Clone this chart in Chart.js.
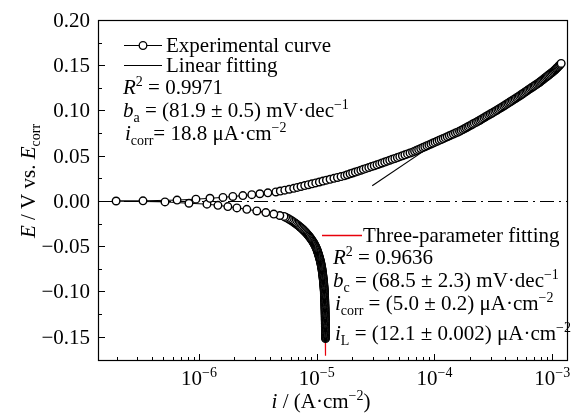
<!DOCTYPE html>
<html><head><meta charset="utf-8">
<script src="https://cdn.jsdelivr.net/npm/chart.js@4.4.1/dist/chart.umd.min.js"></script>
<style>html,body{margin:0;padding:0;background:#fff;}canvas{display:block;}</style>
</head><body>
<canvas id="c" width="576" height="416"></canvas>
<script>
// ---------------- data ----------------
// anodic branch: potential E (V vs. Ecorr) and current density |i| (A cm^-2)
const anodicE = [0,0.0002,0.001,0.002,0.003,0.004,0.005,0.006,0.007,0.008,0.009,
0.010,0.011,0.012,0.013,0.014,0.015,0.016,0.017,0.018,0.019,
0.020,0.021,0.022,0.023,0.024,0.025,0.026,0.027,0.028,0.029,
0.030,0.031,0.032,0.033,0.034,0.035,0.036,0.037,0.038,0.039,
0.040,0.041,0.042,0.043,0.044,0.045,0.046,0.047,0.048,0.049,
0.050,0.051,0.052,0.053,0.054,0.055,0.056,0.057,0.058,0.059,
0.060,0.061,0.062,0.063,0.064,0.065,0.066,0.067,0.068,0.069,
0.070,0.071,0.072,0.073,0.074,0.075,0.076,0.077,0.078,0.079,
0.080,0.081,0.082,0.083,0.084,0.085,0.086,0.087,0.088,0.089,
0.090,0.091,0.092,0.093,0.094,0.095,0.096,0.097,0.098,0.099,
0.100,0.101,0.102,0.103,0.104,0.105,0.106,0.107,0.108,0.109,
0.110,0.111,0.112,0.113,0.114,0.115,0.116,0.117,0.118,0.119,
0.120,0.121,0.122,0.123,0.124,0.125,0.126,0.127,0.128,0.129,
0.130,0.131,0.132,0.133,0.134,0.135,0.136,0.137,0.138,0.139,
0.140,0.141,0.142,0.143,0.144,0.145,0.146,0.147,0.148,0.149,
0.150,0.151,0.152];
const anodicI = [1.98e-7,3.35e-7,6.52e-7,9.43e-7,1.24e-6,1.60e-6,1.94e-6,2.36e-6,2.81e-6,3.29e-6,3.85e-6,
4.50e-6,4.91e-6,5.36e-6,5.85e-6,6.38e-6,6.85e-6,7.36e-6,7.91e-6,8.50e-6,9.13e-6,
9.82e-6,1.054e-5,1.13e-5,1.21e-5,1.30e-5,1.40e-5,1.50e-5,1.61e-5,1.73e-5,1.82e-5,
1.92e-5,2.02e-5,2.13e-5,2.25e-5,2.37e-5,2.49e-5,2.63e-5,2.77e-5,2.92e-5,3.08e-5,
3.25e-5,3.42e-5,3.59e-5,3.78e-5,3.97e-5,4.17e-5,4.38e-5,4.61e-5,4.84e-5,5.08e-5,
5.34e-5,5.61e-5,5.90e-5,6.20e-5,6.51e-5,6.78e-5,7.05e-5,7.34e-5,7.64e-5,7.96e-5,
8.28e-5,8.62e-5,8.97e-5,9.33e-5,9.71e-5,1.011e-4,1.052e-4,1.095e-4,1.14e-4,1.186e-4,
1.234e-4,1.284e-4,1.336e-4,1.39e-4,1.447e-4,1.506e-4,1.567e-4,1.63e-4,1.683e-4,1.74e-4,
1.80e-4,1.86e-4,1.92e-4,1.98e-4,2.05e-4,2.11e-4,2.18e-4,2.26e-4,2.33e-4,2.41e-4,
2.48e-4,2.55e-4,2.63e-4,2.71e-4,2.79e-4,2.88e-4,2.97e-4,3.06e-4,3.15e-4,3.25e-4,
3.35e-4,3.45e-4,3.55e-4,3.66e-4,3.76e-4,3.87e-4,3.98e-4,4.09e-4,4.20e-4,4.32e-4,
4.44e-4,4.57e-4,4.70e-4,4.83e-4,4.97e-4,5.11e-4,5.25e-4,5.39e-4,5.53e-4,5.67e-4,
5.82e-4,5.97e-4,6.13e-4,6.29e-4,6.46e-4,6.63e-4,6.81e-4,6.99e-4,7.17e-4,7.36e-4,
7.56e-4,7.76e-4,7.94e-4,8.12e-4,8.30e-4,8.49e-4,8.68e-4,8.88e-4,9.08e-4,9.29e-4,
9.50e-4,9.71e-4,9.93e-4,1.016e-3,1.039e-3,1.057e-3,1.076e-3,1.094e-3,1.114e-3,1.133e-3,
1.152e-3,1.172e-3,1.19e-3];

// cathodic branch, listed from Ecorr downward
const cathodicE = [-0.001,-0.0025,-0.0035,-0.0048,-0.0062,-0.0076,-0.0092,-0.011,-0.0128,-0.0145,-0.016,
-0.017,-0.018,-0.019,-0.020,
-0.021,-0.022,-0.023,-0.024,-0.025,-0.026,-0.027,-0.028,-0.029,-0.030,
-0.031,-0.032,-0.033,-0.034,-0.035,-0.036,-0.037,-0.038,-0.039,-0.040,
-0.041,-0.042,-0.043,-0.044,-0.045,-0.046,-0.047,-0.048,-0.049,-0.050,
-0.051,-0.052,-0.053,-0.054,-0.055,-0.056,-0.057,-0.058,-0.059,-0.060,
-0.061,-0.062,-0.063,-0.064,-0.065,-0.066,-0.067,-0.068,-0.069,-0.070,
-0.071,-0.072,-0.073,-0.074,-0.075,-0.076,-0.077,-0.078,-0.079,-0.080,
-0.081,-0.082,-0.083,-0.084,-0.085,-0.086,-0.087,-0.088,-0.089,-0.090,
-0.091,-0.092,-0.093,-0.094,-0.095,-0.096,-0.097,-0.098,-0.099,-0.100,
-0.101,-0.102,-0.103,-0.104,-0.105,-0.106,-0.107,-0.108,-0.109,-0.110,
-0.111,-0.112,-0.113,-0.114,-0.115,-0.116,-0.117,-0.118,-0.119,-0.120,
-0.121,-0.122,-0.123,-0.124,-0.125,-0.126,-0.127,-0.128,-0.129,-0.130,
-0.131,-0.132,-0.133,-0.134,-0.135,-0.136,-0.137,-0.138,-0.139,-0.140,
-0.141,-0.142,-0.143,-0.144,-0.145,-0.146,-0.147,-0.148,-0.149,-0.150,
-0.151,-0.152];
const cathodicI = [5.15e-7,8.23e-7,1.17e-6,1.45e-6,1.76e-6,2.10e-6,2.55e-6,3.10e-6,3.70e-6,4.32e-6,4.86e-6,
5.27e-6,5.44e-6,5.63e-6,5.81e-6,
5.99e-6,6.16e-6,6.32e-6,6.48e-6,6.64e-6,6.80e-6,6.96e-6,7.11e-6,7.26e-6,7.41e-6,
7.56e-6,7.70e-6,7.84e-6,7.98e-6,8.11e-6,8.24e-6,8.37e-6,8.50e-6,8.62e-6,8.74e-6,
8.86e-6,8.97e-6,9.08e-6,9.19e-6,9.30e-6,9.40e-6,9.49e-6,9.58e-6,9.67e-6,9.76e-6,
9.84e-6,9.92e-6,9.99e-6,1.006e-5,1.012e-5,1.018e-5,1.024e-5,1.030e-5,1.036e-5,1.041e-5,
1.047e-5,1.052e-5,1.058e-5,1.063e-5,1.068e-5,1.072e-5,1.077e-5,1.081e-5,1.086e-5,1.089e-5,
1.093e-5,1.097e-5,1.101e-5,1.104e-5,1.107e-5,1.110e-5,1.113e-5,1.116e-5,1.118e-5,1.121e-5,
1.124e-5,1.126e-5,1.128e-5,1.131e-5,1.133e-5,1.136e-5,1.138e-5,1.140e-5,1.142e-5,1.144e-5,
1.146e-5,1.148e-5,1.149e-5,1.151e-5,1.153e-5,1.155e-5,1.156e-5,1.158e-5,1.159e-5,1.161e-5,
1.162e-5,1.162e-5,1.163e-5,1.164e-5,1.165e-5,1.166e-5,1.167e-5,1.168e-5,1.169e-5,1.170e-5,
1.171e-5,1.171e-5,1.172e-5,1.173e-5,1.173e-5,1.174e-5,1.175e-5,1.176e-5,1.176e-5,1.177e-5,
1.178e-5,1.178e-5,1.179e-5,1.179e-5,1.180e-5,1.180e-5,1.181e-5,1.181e-5,1.182e-5,1.182e-5,
1.182e-5,1.183e-5,1.183e-5,1.184e-5,1.184e-5,1.184e-5,1.185e-5,1.185e-5,1.185e-5,1.186e-5,
1.186e-5,1.186e-5,1.186e-5,1.187e-5,1.187e-5,1.187e-5,1.187e-5,1.187e-5,1.188e-5,1.188e-5,
1.188e-5,1.188e-5];

// linear (Tafel) fit segment
const linearE = [0.0168, 0.0675];
const linearI = [2.96e-5, 1.12e-4];

// three-parameter fit curve
const threeParE = [-0.010,-0.020,-0.030,-0.040,-0.050,-0.060,-0.070,-0.080,-0.090,-0.100,-0.110,-0.120,-0.130,-0.140,-0.150,-0.160,-0.171];
const threeParI = [3.0e-6,5.8e-6,7.4e-6,8.7e-6,9.7e-6,1.04e-5,1.09e-5,1.12e-5,1.145e-5,1.16e-5,1.17e-5,1.177e-5,1.182e-5,1.186e-5,1.188e-5,1.19e-5,1.192e-5];

// reference line at Ecorr
const E_REF = 0;

// axes
const xMin = 1.39e-7, xMax = 1.36e-3;
const yMin = -0.1768, yMax = 0.20;
const yTicks = [-0.15,-0.10,-0.05,0,0.05,0.10,0.15,0.20];
const yTickLabels = ['\u22120.15','\u22120.10','\u22120.05','0.00','0.05','0.10','0.15','0.20'];
const yMinorTicks = [-0.125,-0.075,-0.025,0.025,0.075,0.125,0.175];
const xTicks = [1e-6,1e-5,1e-4,1e-3];
const xTickExponents = ['\u22126','\u22125','\u22124','\u22123'];

// ---------------- build ----------------
function pairs(xs, ys){ const n=Math.min(xs.length, ys.length); const out=[]; for(let k=0;k<n;k++) out.push({x:xs[k], y:ys[k]}); return out; }
const expData = pairs(cathodicI, cathodicE).reverse().concat(pairs(anodicI, anodicE));
const linData = pairs(linearI, linearE);
const tpData = pairs(threeParI, threeParE);

const xMinor = [];
for (let d = -7; d <= -4; d++) for (let m = 2; m <= 9; m++) { const v = m * Math.pow(10, d); if (v > xMin && v < xMax) xMinor.push(v); }

const FONT = '"Liberation Serif", "Times New Roman", serif';
const FS = 21, FS_SMALL = 14;

function setFont(ctx, style, size){ ctx.font = (style==='i' ? 'italic ' : '') + size + 'px ' + FONT; }
function partSize(p){ return (p[1]==='sub'||p[1]==='sup') ? FS_SMALL : FS; }
function richWidth(ctx, parts){ let w=0; for(const p of parts){ setFont(ctx, p[1], partSize(p)); w += ctx.measureText(p[0]).width; } return w; }
function drawRich(ctx, x, y, parts, align){
  let cx = x; const w = richWidth(ctx, parts);
  if (align==='center') cx -= w/2; else if (align==='right') cx -= w;
  ctx.textAlign='left'; ctx.textBaseline='alphabetic';
  for (const p of parts){
    const sz = partSize(p); setFont(ctx, p[1], sz);
    const dy = p[1]==='sub' ? 5 : (p[1]==='sup' ? -8 : 0);
    ctx.fillText(p[0], cx, y+dy);
    cx += ctx.measureText(p[0]).width;
  }
}

const decor = {
  id:'decor',
  beforeDatasetsDraw(chart){
    const {ctx, chartArea:a, scales:{y}} = chart;
    const y0 = Math.round(y.getPixelForValue(E_REF)) + 0.5;
    ctx.save(); ctx.strokeStyle='#000'; ctx.lineWidth=1; ctx.setLineDash([14,5,2,5]);
    ctx.beginPath(); ctx.moveTo(a.left, y0); ctx.lineTo(a.right, y0); ctx.stroke(); ctx.restore();
  },
  afterDraw(chart){
    const {ctx, chartArea:a, scales:{x, y}} = chart;
    ctx.save();
    ctx.fillStyle='#000'; ctx.strokeStyle='#000'; ctx.lineWidth=1.2;
    // frame
    ctx.strokeRect(a.left+0.5, a.top+0.5, a.right-a.left-1, a.bottom-a.top-1);
    // ticks (inward)
    ctx.lineWidth=1;
    ctx.beginPath();
    yTicks.forEach(v=>{ const py=Math.round(y.getPixelForValue(v))+0.5; ctx.moveTo(a.left, py); ctx.lineTo(a.left+7, py); });
    yMinorTicks.forEach(v=>{ const py=Math.round(y.getPixelForValue(v))+0.5; ctx.moveTo(a.left, py); ctx.lineTo(a.left+4, py); });
    xTicks.forEach(v=>{ const px=Math.round(x.getPixelForValue(v))+0.5; ctx.moveTo(px, a.bottom); ctx.lineTo(px, a.bottom-7); });
    xMinor.forEach(v=>{ const px=Math.round(x.getPixelForValue(v))+0.5; ctx.moveTo(px, a.bottom); ctx.lineTo(px, a.bottom-4); });
    ctx.stroke();
    // y tick labels
    yTicks.forEach((v,k)=>{ const py=y.getPixelForValue(v); drawRich(ctx, a.left-8, py+7, [[yTickLabels[k]]], 'right'); });
    // x tick labels
    xTicks.forEach((v,k)=>{ const px=x.getPixelForValue(v); drawRich(ctx, px, a.bottom+24, [['10'],[xTickExponents[k],'sup']], 'center'); });
    // axis titles
    drawRich(ctx, (a.left+a.right)/2 - 12, 408, [['i','i'],[' / (A\u00B7cm'],['\u22122','sup'],[')']], 'center');
    ctx.save(); ctx.translate(35, 181); ctx.rotate(-Math.PI/2);
    drawRich(ctx, 0, 0, [['E','i'],[' / V vs. '],['E','i'],['corr','sub']], 'center');
    ctx.restore();
    // legend block 1
    ctx.lineWidth=1.1;
    ctx.beginPath(); ctx.moveTo(124, 45.5); ctx.lineTo(162, 45.5); ctx.stroke();
    ctx.lineWidth=1.3;
    ctx.beginPath(); ctx.arc(143, 45.5, 3.8, 0, Math.PI*2); ctx.fillStyle='#fff'; ctx.fill(); ctx.stroke();
    ctx.lineWidth=1.1;
    ctx.fillStyle='#000';
    ctx.beginPath(); ctx.moveTo(124, 65.5); ctx.lineTo(162, 65.5); ctx.stroke();
    drawRich(ctx, 166, 52, [['Experimental curve']]);
    drawRich(ctx, 166, 72, [['Linear fitting']]);
    drawRich(ctx, 123, 94, [['R','i'],['2','sup'],[' = 0.9971']]);
    drawRich(ctx, 123, 117, [['b','i'],['a','sub'],[' = (81.9 \u00B1 0.5) mV\u00B7dec'],['\u22121','sup']]);
    drawRich(ctx, 125, 140, [['i','i'],['corr','sub'],['= 18.8 \u03BCA\u00B7cm'],['\u22122','sup']]);
    // legend block 2
    ctx.strokeStyle='#e8000b'; ctx.lineWidth=1.3;
    ctx.beginPath(); ctx.moveTo(322, 235.5); ctx.lineTo(362, 235.5); ctx.stroke();
    drawRich(ctx, 363, 242, [['Three-parameter fitting']]);
    drawRich(ctx, 333, 264, [['R','i'],['2','sup'],[' = 0.9636']]);
    drawRich(ctx, 333, 287, [['b','i'],['c','sub'],[' = (68.5 \u00B1 2.3) mV\u00B7dec'],['\u22121','sup']]);
    drawRich(ctx, 335, 310, [['i','i'],['corr','sub'],[' = (5.0 \u00B1 0.2) \u03BCA\u00B7cm'],['\u22122','sup']]);
    drawRich(ctx, 335, 340, [['i','i'],['L','sub'],[' = (12.1 \u00B1 0.002) \u03BCA\u00B7cm'],['\u22122','sup']]);
    ctx.restore();
  }
};

new Chart(document.getElementById('c'), {
  type:'scatter',
  data:{ datasets:[
    { label:'Experimental curve', data:expData, showLine:true, borderColor:'#000', borderWidth:1,
      pointRadius:3.8, pointBorderWidth:1.4, pointBackgroundColor:'#fff', pointBorderColor:'#000', order:0 },
    { label:'Linear fitting', data:linData, showLine:true, borderColor:'#000', borderWidth:1.1, pointRadius:0, order:1 },
    { label:'Three-parameter fitting', data:tpData, showLine:true, borderColor:'#e8000b', borderWidth:1.2, pointRadius:0, order:2 }
  ]},
  options:{
    responsive:false, animation:false, devicePixelRatio:1,
    layout:{ padding:{ left:98, top:20, right:8, bottom:55 } },
    plugins:{ legend:{display:false}, tooltip:{enabled:false} },
    scales:{
      x:{ type:'logarithmic', min:xMin, max:xMax, display:false },
      y:{ type:'linear', min:yMin, max:yMax, display:false }
    }
  },
  plugins:[decor]
});
</script>
</body></html>
